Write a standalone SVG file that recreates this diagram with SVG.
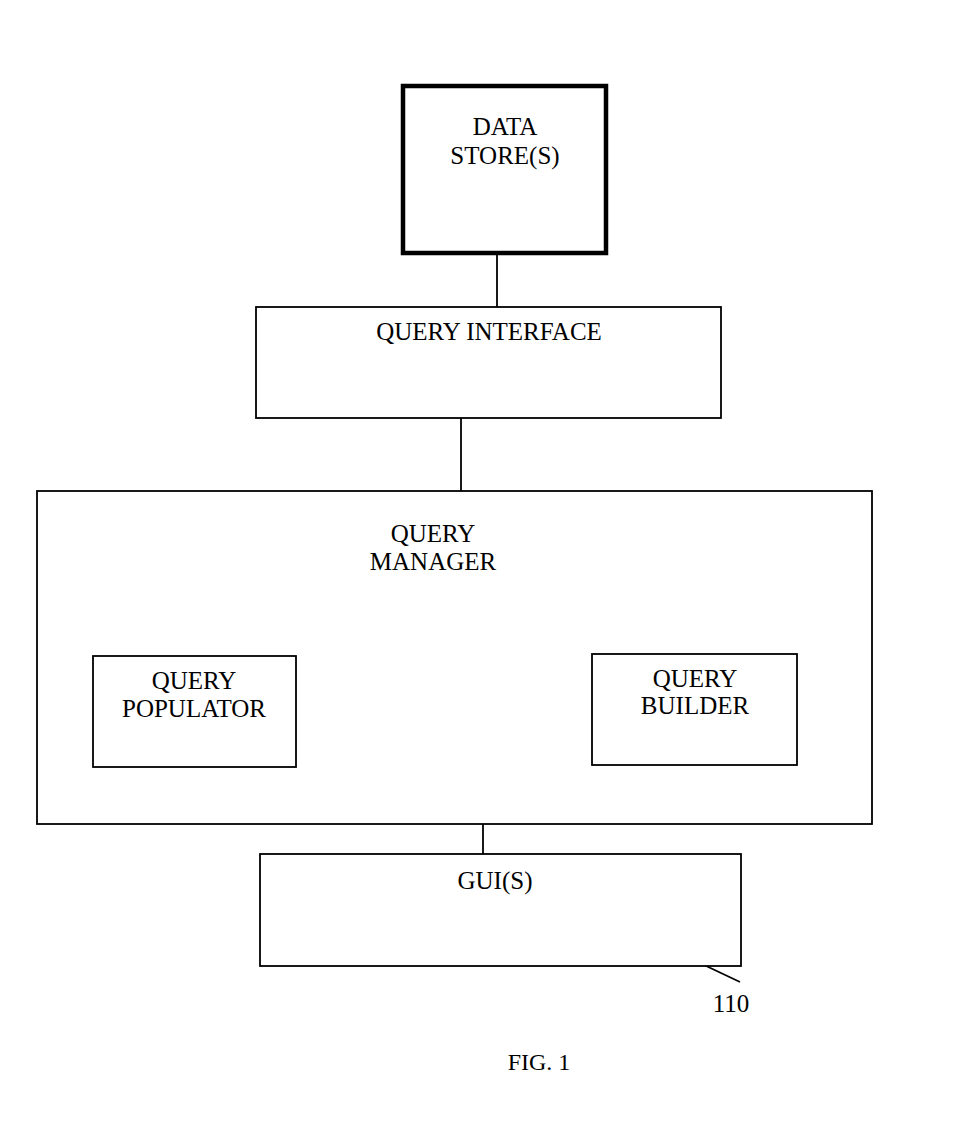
<svg xmlns="http://www.w3.org/2000/svg" width="974" height="1131" viewBox="0 0 974 1131">
<style>
.box{fill:#fff;stroke:#000;stroke-width:1.8}
.thick{fill:#fff;stroke:#000;stroke-width:4.5}
.t{font-family:"Liberation Serif","Times New Roman",serif;font-size:25px;fill:#000;text-anchor:middle}
.c{stroke:#000;stroke-width:1.8;fill:none}
</style>
<rect width="974" height="1131" fill="#fff"/>
<g id="connectors">
<line class="c" x1="497" y1="253" x2="497" y2="307"/>
<line class="c" x1="461" y1="418" x2="461" y2="491"/>
<line class="c" x1="483" y1="824" x2="483" y2="854"/>
<line class="c" x1="702" y1="964" x2="740" y2="982"/>
</g>
<g id="data-store">
<rect class="thick" x="403" y="86" width="203" height="167"/>
<text class="t" x="505" y="135">DATA</text>
<text class="t" x="505" y="164">STORE(S)</text>
</g>
<g id="query-interface">
<rect class="box" x="256" y="307" width="465" height="111"/>
<text class="t" x="489" y="340">QUERY INTERFACE</text>
</g>
<g id="query-manager">
<rect class="box" x="37" y="491" width="835" height="333"/>
<text class="t" x="433" y="542">QUERY</text>
<text class="t" x="433" y="570">MANAGER</text>
</g>
<g id="query-populator">
<rect class="box" x="93" y="656" width="203" height="111"/>
<text class="t" x="194" y="689">QUERY</text>
<text class="t" x="194" y="717">POPULATOR</text>
</g>
<g id="query-builder">
<rect class="box" x="592" y="654" width="205" height="111"/>
<text class="t" x="695" y="687">QUERY</text>
<text class="t" x="695" y="714">BUILDER</text>
</g>
<g id="gui">
<rect class="box" x="260" y="854" width="481" height="112"/>
<text class="t" x="495" y="889">GUI(S)</text>
</g>
<g id="labels">
<text class="t" x="731" y="1012">110</text>
<text class="t" x="539" y="1070" style="font-size:24px">FIG. 1</text>
</g>
</svg>
